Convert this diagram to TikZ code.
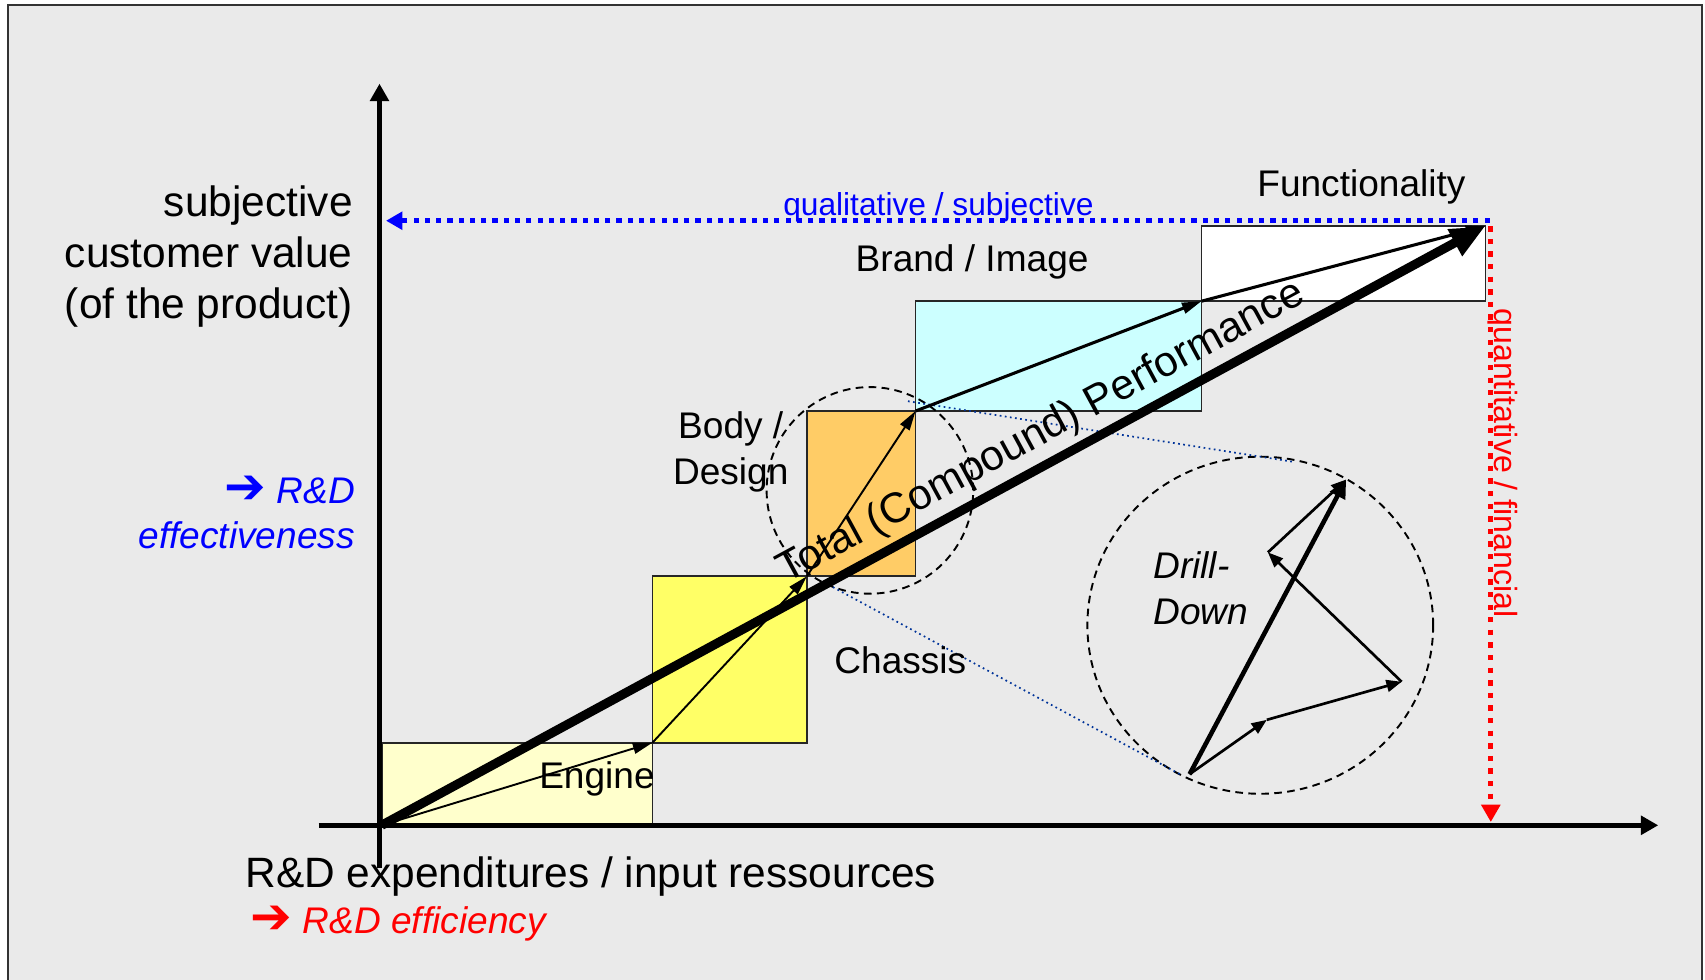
\documentclass[tikz,border=0pt]{standalone}
\usepackage{fontspec}
\setmainfont{Liberation Sans}
\newfontfamily\arrowfont{DejaVu Sans}
\usetikzlibrary{arrows.meta}

\definecolor{slidegray}{HTML}{EAEAEA}
\definecolor{enginefill}{HTML}{FFFFCC}
\definecolor{chassisfill}{HTML}{FFFF66}
\definecolor{bodyfill}{HTML}{FFCC66}
\definecolor{brandfill}{HTML}{CCFFFF}
\definecolor{zoomblue}{RGB}{0,51,153}

\newcommand{\pointer}{{\arrowfont\bfseries\fontsize{13}{12}\selectfont\char"2794}}

\begin{document}
\begin{tikzpicture}[
  every node/.style={inner sep=0pt},
  box/.style={draw=black!85, line width=0.45pt},
  axis/.style={line width=1.2pt, -{Triangle[length=0.16cm,width=0.17cm]}},
  partvec/.style={line width=0.5pt, -{Triangle[length=0.18cm,width=0.10cm]}},
  totalvec/.style={line width=2.4pt, -{Triangle[length=0.32cm,width=0.26cm]}},
  drillvec/.style={line width=0.7pt, -{Triangle[length=0.14cm,width=0.11cm]}},
  lens/.style={line width=0.5pt, dash pattern=on 2pt off 1.4pt},
  zoomline/.style={zoomblue, line width=0.45pt, dash pattern=on 0.45pt off 0.9pt},
  scale label/.style={font=\fontsize{11.1}{13.4}\selectfont},
  part label/.style={font=\fontsize{9.7}{12}\selectfont}
]
\useasboundingbox (0,0) rectangle (15.68,9.01);
% slide frame
\fill[slidegray] (0.07,-0.1) rectangle (15.65,8.96);
\draw[black!80, line width=0.5pt] (0.07,-0.1) |- (15.65,8.96) -- (15.65,-0.1);

% corners of the stair
\coordinate (O) at (3.51,1.42);
\coordinate (c1) at (6.00,2.18);
\coordinate (c2) at (7.42,3.71);
\coordinate (c3) at (8.42,5.23);
\coordinate (c4) at (11.05,6.24);
\coordinate (c5) at (13.66,6.93);

\draw[box, fill=enginefill] (O) rectangle (c1);
\draw[box, fill=chassisfill] (c1) rectangle (c2);
\draw[box, fill=bodyfill] (c2) rectangle (c3);
\draw[box, fill=brandfill] (c3) rectangle (c4);
\draw[box, fill=white] (c4) rectangle (c5);

% drill-down lens
\coordinate (lensS) at (8.00,4.50);
\coordinate (lensL) at (11.59,3.26);
\draw[lens] (lensS) circle (0.95);
\draw[lens] (lensL) ellipse (1.59 and 1.55);
\coordinate (zt1) at (8.35,5.32);
\coordinate (zt2) at (11.91,4.76);
\coordinate (zb1) at (7.66,3.61);
\coordinate (zb2) at (10.87,1.88);
\draw[zoomline] (zt1) -- (zt2);
\draw[zoomline] (zb1) -- (zb2);

% axes
\coordinate (xs) at (2.93,1.42);
\coordinate (xe) at (15.25,1.42);
\coordinate (ys) at (3.49,1.03);
\coordinate (ye) at (3.49,8.24);
\draw[axis, line width=1.4pt] (xs) -- (xe);
\draw[axis, line width=1.1pt] (ys) -- (ye);

% qualitative / quantitative
\coordinate (qc) at (13.70,6.98);
\coordinate (ql) at (3.55,6.98);
\coordinate (qr) at (13.71,6.93);
\coordinate (qb) at (13.71,1.45);
\draw[blue, line width=1.35pt, dash pattern=on 1.35pt off 1.6pt,
  -{Triangle[length=0.15cm,width=0.16cm]}] (qc) -- (ql);
\draw[red, line width=1.4pt, dash pattern=on 1.4pt off 1.9pt,
  -{Triangle[length=0.16cm,width=0.17cm]}] (qr) -- (qb);

% stair vectors
\draw[partvec] (O) -- (c1);
\draw[partvec] (c1) -- (c2);
\draw[partvec] (c2) -- (c3);
\draw[partvec, line width=0.8pt] (c3) -- (c4);
\draw[partvec, line width=0.8pt] (c4) -- (c5);
\draw[totalvec] (O) -- (c5);

% vectors inside the lens
\coordinate (dA) at (10.94,1.89);
\coordinate (dB) at (11.65,2.39);
\coordinate (dC) at (12.89,2.74);
\coordinate (dD) at (11.66,3.93);
\coordinate (dE) at (12.38,4.60);
\draw[drillvec] (dA) -- (dB);
\draw[drillvec] (dB) -- (dC);
\draw[drillvec] (dC) -- (dD);
\draw[drillvec] (dD) -- (dE);
\draw[drillvec, line width=1.2pt, -{Triangle[length=0.17cm,width=0.15cm]}] (dA) -- (dE);

% labels
\node[scale label, anchor=east, align=right] (ylab) at (3.25,6.65)
  {subjective\\customer value\\(of the product)};
\node[part label, anchor=east, align=right, blue, font=\fontsize{9.7}{11.7}\selectfont\itshape] (effect) at (3.27,4.30)
  {\pointer{} R\&D\\effectiveness};
\node[scale label, anchor=west] (xlab) at (2.25,0.95) {R\&D expenditures / input ressources};
\node[part label, anchor=west, red, font=\fontsize{9.7}{12}\selectfont\itshape] (effic) at (2.30,0.52)
  {\pointer{} R\&D efficiency};
\node[part label] (engine) at (5.49,1.85) {Engine};
\node[part label] (chassis) at (8.28,2.94) {Chassis};
\node[part label, align=center] (body) at (6.72,4.85) {Body /\\Design};
\node[part label] (brand) at (8.94,6.60) {Brand / Image};
\node[part label] (func) at (12.52,7.29) {Functionality};
\node[part label, anchor=west, align=left, font=\fontsize{9.7}{12}\selectfont\itshape] (drill) at (10.60,3.60)
  {Drill-\\Down};
\node[blue, anchor=base, font=\fontsize{8.3}{10}\selectfont] (qual) at (8.63,7.03) {qualitative / subjective};
\node[red, anchor=base, rotate=-90, font=\fontsize{8.4}{10}\selectfont] (quant) at (13.74,4.75) {quantitative / financial};
\node[scale label, rotate=28.5] (total) at (9.58,5.03) {Total (Compound) Performance};
\end{tikzpicture}
\end{document}
